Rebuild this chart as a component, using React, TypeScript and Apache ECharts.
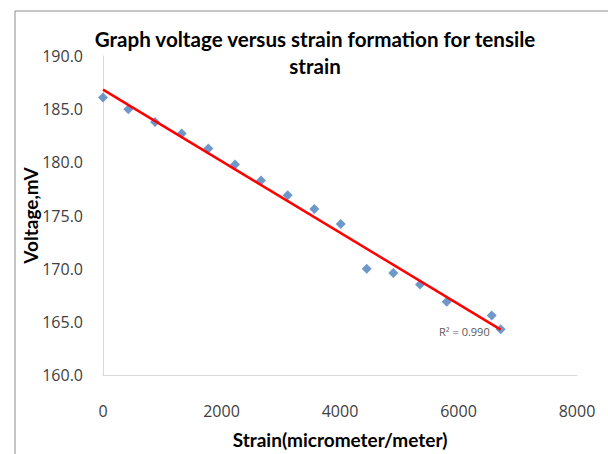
import React, { useEffect, useRef } from "react";
import * as echarts from "echarts";

// Data
const strain = [0, 427, 878, 1328, 1778, 2228, 2667, 3117, 3566, 4012, 4451, 4900, 5350, 5801, 6560, 6712];
const voltage = [186.1, 185.0, 183.8, 182.7, 181.3, 179.8, 178.3, 176.9, 175.6, 174.2, 170.0, 169.6, 168.5, 166.9, 165.6, 164.3];
const titleLines = ["Graph voltage versus strain formation for tensile", "strain"];
const xAxisName = "Strain(micrometer/meter)";
const yAxisName = "Voltage,mV";
const r2Label = "R\u00b2 = 0.990";
const xTickRange = [0, 8000, 2000];
const yTickRange = [160, 190, 5];

function linearFit(xs: number[], ys: number[]) {
  const n = xs.length;
  const mx = xs.reduce((a, b) => a + b, 0) / n;
  const my = ys.reduce((a, b) => a + b, 0) / n;
  let sxy = 0;
  let sxx = 0;
  for (let i = 0; i < n; i++) {
    sxy += (xs[i] - mx) * (ys[i] - my);
    sxx += (xs[i] - mx) * (xs[i] - mx);
  }
  const slope = sxy / sxx;
  return { slope, intercept: my - slope * mx };
}

export default function App() {
  const ref = useRef<HTMLDivElement>(null);
  useEffect(() => {
    if (!ref.current) return;
    const chart = echarts.init(ref.current, undefined, { renderer: "svg" });
    const fit = linearFit(strain, voltage);
    const x0 = Math.min(...strain);
    const x1 = Math.max(...strain);
    const tickFont = { fontFamily: "Open Sans", fontSize: 16, color: "#404040" };
    const nameFont = { fontFamily: "Lato", fontWeight: "bold", fontSize: 19, color: "#000000" };
    chart.setOption({
      animation: false,
      backgroundColor: "#ffffff",
      title: {
        text: titleLines.join("\n"),
        left: 310,
        top: 20,
        textAlign: "center",
        textStyle: {
          fontFamily: "Lato",
          fontWeight: "bold",
          fontSize: 20.6,
          lineHeight: 27,
          color: "#000000",
        },
      },
      graphic: [
        {
          type: "rect",
          shape: { x: 15, y: 11, width: 640, height: 480 },
          style: { fill: "none", stroke: "#8c8c8c", lineWidth: 1 },
          silent: true,
          z: -1,
        },
      ],
      grid: { left: 103, right: 31, top: 56, bottom: 79 },
      xAxis: {
        type: "value",
        min: xTickRange[0],
        max: xTickRange[1],
        interval: xTickRange[2],
        name: xAxisName,
        nameLocation: "middle",
        nameGap: 55,
        nameMoveOverlap: false,
        nameTextStyle: nameFont,
        axisLine: { show: true, lineStyle: { color: "#d9d9d9", width: 1 } },
        axisTick: { show: false },
        splitLine: { show: false },
        axisLabel: { ...tickFont, margin: 28, formatter: (v: number) => String(v) },
      },
      yAxis: {
        type: "value",
        min: yTickRange[0],
        max: yTickRange[1],
        interval: yTickRange[2],
        name: yAxisName,
        nameLocation: "middle",
        nameGap: 63,
        nameMoveOverlap: false,
        nameTextStyle: nameFont,
        axisLine: { show: true, lineStyle: { color: "#d9d9d9", width: 1 } },
        axisTick: { show: false },
        splitLine: { show: false },
        axisLabel: { ...tickFont, margin: 20, formatter: (v: number) => v.toFixed(1) },
      },
      series: [
        {
          type: "scatter",
          symbol: "diamond",
          symbolSize: 10,
          itemStyle: { color: "#4a7ebb" },
          data: strain.map((x, i) => [x, voltage[i]]),
          z: 2,
        },
        {
          type: "line",
          symbol: "circle",
          symbolSize: 0,
          showSymbol: true,
          lineStyle: { color: "#ff0000", width: 2.5 },
          itemStyle: { color: "#ff0000" },
          data: [
            [x0, fit.intercept + fit.slope * x0],
            {
              value: [x1, fit.intercept + fit.slope * x1],
              label: {
                show: true,
                position: "left",
                distance: 11,
                formatter: r2Label,
                fontFamily: "Open Sans",
                fontSize: 11,
                color: "#595959",
                offset: [0, 2],
              },
            },
          ],
          z: 3,
        },
      ],
    });
    return () => chart.dispose();
  }, []);
  return (
    <div
      ref={ref}
      style={{ position: "fixed", left: 0, top: 0, width: 608, height: 454 }}
    />
  );
}
